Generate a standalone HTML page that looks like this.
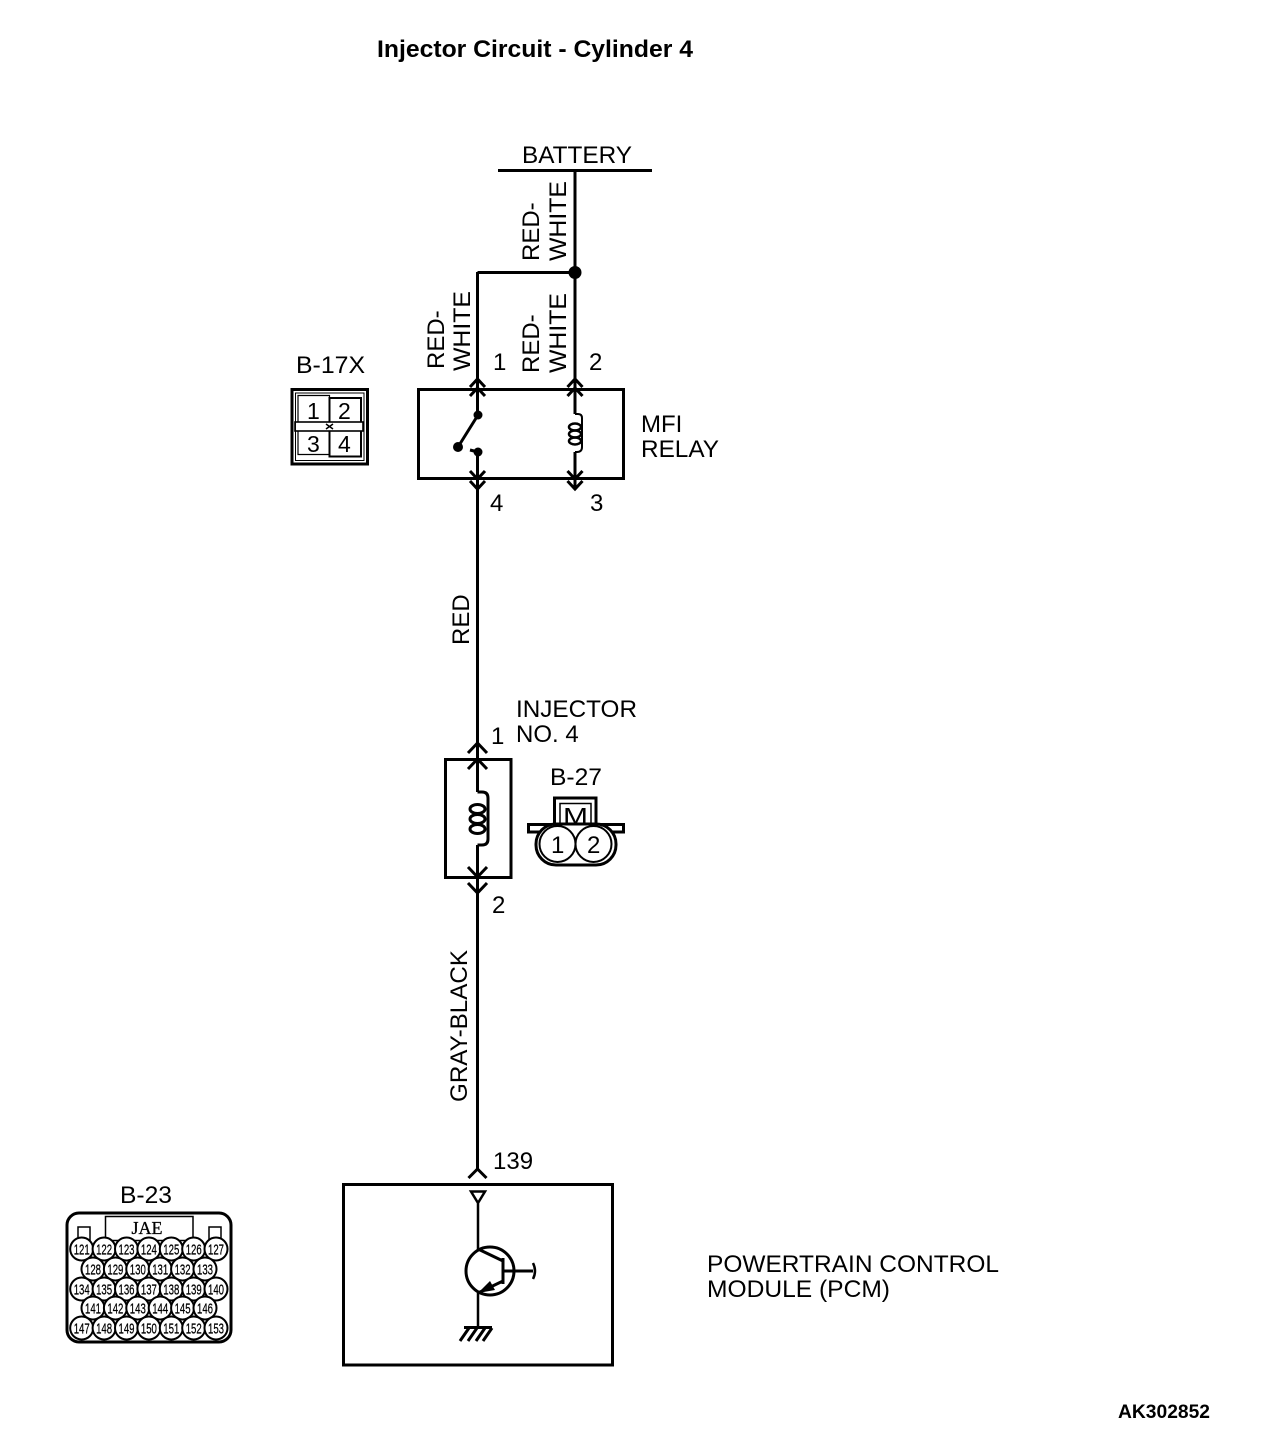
<!DOCTYPE html>
<html><head><meta charset="utf-8"><style>
html,body{margin:0;padding:0;background:#fff}
svg{display:block}
text{font-family:"Liberation Sans",sans-serif;font-size:24px;fill:#000}
.w{stroke:#000;fill:none;stroke-width:3}
.t{stroke:#000;fill:none;stroke-width:2}
.c{stroke:#000;fill:#fff;stroke-width:2}
.n{font-size:15px;text-anchor:middle;stroke:#000;stroke-width:.25}
</style></head><body>
<svg width="1280" height="1454" viewBox="0 0 1280 1454" xmlns="http://www.w3.org/2000/svg">
<defs>
<path id="up" d="M-7.5 8L0 0L7.5 8" fill="none" stroke="#000" stroke-width="3"/>
<path id="dn" d="M-7.5 -8L0 0L7.5 -8" fill="none" stroke="#000" stroke-width="3"/>
<path id="upb" d="M-9.500 10L0 0L9.500 10" fill="none" stroke="#000" stroke-width="3"/>
<path id="dnb" d="M-9.500 -10L0 0L9.500 -10" fill="none" stroke="#000" stroke-width="3"/>
</defs>

<text x="377" y="57" style="font-weight:bold;font-size:24px" textLength="316" lengthAdjust="spacingAndGlyphs">Injector Circuit - Cylinder 4</text>

<text x="522" y="163" textLength="110" lengthAdjust="spacingAndGlyphs">BATTERY</text>
<path class="w" d="M498 170.500H652"/>
<path class="w" d="M575 170V414M477.500 272.500H575M477.500 272V415M477.500 452V792M477.500 845V1170M575 452V489"/>
<circle cx="575" cy="272.500" r="6.500"/>

<text transform="translate(539,261) rotate(-90)">RED-</text>
<text transform="translate(566,261) rotate(-90)" textLength="80" lengthAdjust="spacingAndGlyphs">WHITE</text>
<text transform="translate(444,369) rotate(-90)">RED-</text>
<text transform="translate(470,371) rotate(-90)" textLength="80" lengthAdjust="spacingAndGlyphs">WHITE</text>
<text transform="translate(539,373) rotate(-90)">RED-</text>
<text transform="translate(566,373) rotate(-90)" textLength="80" lengthAdjust="spacingAndGlyphs">WHITE</text>
<text x="493" y="370">1</text>
<text x="589" y="370">2</text>

<!-- relay -->
<rect x="418.500" y="389.500" width="205" height="89" class="w"/>
<use href="#up" x="477.500" y="379"/><use href="#up" x="477.500" y="388"/>
<use href="#up" x="575" y="379"/><use href="#up" x="575" y="388"/>
<use href="#dn" x="477.500" y="479"/><use href="#dn" x="477.500" y="489"/>
<use href="#dn" x="575" y="479"/><use href="#dn" x="575" y="489"/>
<circle cx="478" cy="415" r="4.500"/><circle cx="458" cy="447" r="5"/><circle cx="478" cy="452" r="4.500"/>
<path class="w" d="M478 415L458 447M470 450L478 452"/>
<path class="t" stroke-width="2.500" d="M575 414H578Q582 414 582 418V447Q582 452 577 452H575"/>
<g class="t" style="stroke-width:2.500"><ellipse cx="575" cy="427" rx="6" ry="3.500"/><ellipse cx="575" cy="434" rx="6" ry="3.500"/><ellipse cx="575" cy="441" rx="6" ry="3.500"/></g>
<text x="490" y="511">4</text>
<text x="590" y="511">3</text>
<text x="641" y="432">MFI</text>
<text x="641" y="457" textLength="78" lengthAdjust="spacingAndGlyphs">RELAY</text>

<!-- B-17X -->
<text x="296" y="373" textLength="69" lengthAdjust="spacingAndGlyphs">B-17X</text>
<rect x="292" y="389.500" width="75.500" height="74.500" class="w"/>
<rect x="295.500" y="393" width="68.500" height="67.500" fill="none" stroke="#000" stroke-width="1"/>
<path d="M298 422V395.500H329.500V422M298 431V454.500H329.500" fill="none" stroke="#000" stroke-width="1.200"/>
<path d="M329.500 422V398H361V422M329.500 431V456.500H361V431" fill="none" stroke="#000" stroke-width="2"/>
<rect x="295" y="422" width="68" height="9" fill="none" stroke="#000" stroke-width="1.600"/>
<path d="M326 424L333 429M333 424L326 429" stroke="#000" stroke-width="1.500"/>
<text x="307" y="419" style="font-size:23px">1</text>
<text x="338" y="419" style="font-size:23px">2</text>
<text x="307" y="452" style="font-size:23px">3</text>
<text x="338" y="452" style="font-size:23px">4</text>

<text x="491" y="744">1</text>
<text x="516" y="717" textLength="121" lengthAdjust="spacingAndGlyphs">INJECTOR</text>
<text x="516" y="742">NO. 4</text>

<!-- injector -->
<rect x="445.500" y="759.500" width="65.500" height="118" class="w"/>
<use href="#upb" x="477.500" y="743"/><use href="#upb" x="477.500" y="759"/>
<use href="#dnb" x="477.500" y="877"/><use href="#dnb" x="477.500" y="893"/>
<path class="w" d="M477.500 792H482Q488 792 488 798V839Q488 845 482 845H477.500"/>
<g class="w"><ellipse cx="477.500" cy="809" rx="7.500" ry="4.500"/><ellipse cx="477.500" cy="819" rx="7.500" ry="4.500"/><ellipse cx="477.500" cy="829" rx="7.500" ry="4.500"/></g>
<text x="492" y="913">2</text>

<!-- B-27 -->
<text x="550" y="785" textLength="52" lengthAdjust="spacingAndGlyphs">B-27</text>
<path class="w" d="M554.500 823V798H596V823"/>
<path d="M560 823V803.500H591V823" fill="none" stroke="#000" stroke-width="1.500"/>
<text x="563" y="824" style="font-size:23px" textLength="25" lengthAdjust="spacingAndGlyphs">M</text>
<rect x="528.500" y="824.500" width="95" height="7.500" fill="#fff" stroke="#000" stroke-width="3"/>
<rect x="536" y="824" width="80" height="41" rx="20" fill="#fff" stroke="#000" stroke-width="3"/>
<circle cx="557.500" cy="844" r="18" class="c"/>
<circle cx="593.500" cy="844" r="18" class="c"/>
<text x="551" y="853">1</text>
<text x="587" y="853">2</text>

<text transform="translate(467,1102) rotate(-90)" textLength="152" lengthAdjust="spacingAndGlyphs">GRAY-BLACK</text>
<text transform="translate(469,645) rotate(-90)">RED</text>

<!-- PCM -->
<path class="w" d="M468.500 1178L477.500 1169L486.500 1178"/>
<text x="493" y="1169">139</text>
<rect x="343.500" y="1184.500" width="269" height="180.500" class="w"/>
<path class="t" style="stroke-width:2.500" d="M471 1191.500H485L478 1203ZM478 1203V1250M478 1293V1327"/>
<circle cx="490" cy="1271" r="24" class="w"/>
<path class="w" d="M503 1258V1284M478 1249L503 1261M503 1281L478 1293M503 1271H533"/>
<path d="M478 1293L490 1281L495 1290Z"/>
<path class="t" style="stroke-width:2.500" d="M533 1263Q537 1271 533 1279"/>
<path class="w" d="M464 1327.500H492M469 1328L460 1341M477 1328L468 1341M485 1328L476 1341M492 1328L483 1341"/>
<text x="707" y="1272" textLength="292" lengthAdjust="spacingAndGlyphs">POWERTRAIN CONTROL</text>
<text x="707" y="1297" textLength="183" lengthAdjust="spacingAndGlyphs">MODULE (PCM)</text>

<!-- B-23 -->
<text x="120" y="1203" textLength="52" lengthAdjust="spacingAndGlyphs">B-23</text>
<rect x="67" y="1213" width="164" height="129" rx="12" class="w"/>
<rect x="105.500" y="1216.500" width="87.500" height="24" fill="none" stroke="#000" stroke-width="1.500"/>
<text x="147" y="1234" text-anchor="middle" style="font-size:18px;font-family:'Liberation Serif',serif;stroke:#000;stroke-width:.3">JAE</text>
<rect x="78" y="1227" width="12" height="13" fill="none" stroke="#000" stroke-width="1.500"/>
<rect x="209" y="1227" width="12" height="13" fill="none" stroke="#000" stroke-width="1.500"/>
<g>
<circle cx="81.700" cy="1249" r="11.500" class="c"/><text x="81.700" y="1254.500" class="n" textLength="16" lengthAdjust="spacingAndGlyphs">121</text>
<circle cx="104.100" cy="1249" r="11.500" class="c"/><text x="104.100" y="1254.500" class="n" textLength="16" lengthAdjust="spacingAndGlyphs">122</text>
<circle cx="126.500" cy="1249" r="11.500" class="c"/><text x="126.500" y="1254.500" class="n" textLength="16" lengthAdjust="spacingAndGlyphs">123</text>
<circle cx="148.900" cy="1249" r="11.500" class="c"/><text x="148.900" y="1254.500" class="n" textLength="16" lengthAdjust="spacingAndGlyphs">124</text>
<circle cx="171.300" cy="1249" r="11.500" class="c"/><text x="171.300" y="1254.500" class="n" textLength="16" lengthAdjust="spacingAndGlyphs">125</text>
<circle cx="193.700" cy="1249" r="11.500" class="c"/><text x="193.700" y="1254.500" class="n" textLength="16" lengthAdjust="spacingAndGlyphs">126</text>
<circle cx="216" cy="1249" r="11.500" class="c"/><text x="216" y="1254.500" class="n" textLength="16" lengthAdjust="spacingAndGlyphs">127</text>

<circle cx="93" cy="1269" r="11.500" class="c"/><text x="93" y="1274.500" class="n" textLength="16" lengthAdjust="spacingAndGlyphs">128</text>
<circle cx="115.400" cy="1269" r="11.500" class="c"/><text x="115.400" y="1274.500" class="n" textLength="16" lengthAdjust="spacingAndGlyphs">129</text>
<circle cx="137.800" cy="1269" r="11.500" class="c"/><text x="137.800" y="1274.500" class="n" textLength="16" lengthAdjust="spacingAndGlyphs">130</text>
<circle cx="160.200" cy="1269" r="11.500" class="c"/><text x="160.200" y="1274.500" class="n" textLength="16" lengthAdjust="spacingAndGlyphs">131</text>
<circle cx="182.600" cy="1269" r="11.500" class="c"/><text x="182.600" y="1274.500" class="n" textLength="16" lengthAdjust="spacingAndGlyphs">132</text>
<circle cx="205" cy="1269" r="11.500" class="c"/><text x="205" y="1274.500" class="n" textLength="16" lengthAdjust="spacingAndGlyphs">133</text>

<circle cx="81.700" cy="1289" r="11.500" class="c"/><text x="81.700" y="1294.500" class="n" textLength="16" lengthAdjust="spacingAndGlyphs">134</text>
<circle cx="104.100" cy="1289" r="11.500" class="c"/><text x="104.100" y="1294.500" class="n" textLength="16" lengthAdjust="spacingAndGlyphs">135</text>
<circle cx="126.500" cy="1289" r="11.500" class="c"/><text x="126.500" y="1294.500" class="n" textLength="16" lengthAdjust="spacingAndGlyphs">136</text>
<circle cx="148.900" cy="1289" r="11.500" class="c"/><text x="148.900" y="1294.500" class="n" textLength="16" lengthAdjust="spacingAndGlyphs">137</text>
<circle cx="171.300" cy="1289" r="11.500" class="c"/><text x="171.300" y="1294.500" class="n" textLength="16" lengthAdjust="spacingAndGlyphs">138</text>
<circle cx="193.700" cy="1289" r="11.500" class="c"/><text x="193.700" y="1294.500" class="n" textLength="16" lengthAdjust="spacingAndGlyphs">139</text>
<circle cx="216" cy="1289" r="11.500" class="c"/><text x="216" y="1294.500" class="n" textLength="16" lengthAdjust="spacingAndGlyphs">140</text>

<circle cx="93" cy="1308" r="11.500" class="c"/><text x="93" y="1313.500" class="n" textLength="16" lengthAdjust="spacingAndGlyphs">141</text>
<circle cx="115.400" cy="1308" r="11.500" class="c"/><text x="115.400" y="1313.500" class="n" textLength="16" lengthAdjust="spacingAndGlyphs">142</text>
<circle cx="137.800" cy="1308" r="11.500" class="c"/><text x="137.800" y="1313.500" class="n" textLength="16" lengthAdjust="spacingAndGlyphs">143</text>
<circle cx="160.200" cy="1308" r="11.500" class="c"/><text x="160.200" y="1313.500" class="n" textLength="16" lengthAdjust="spacingAndGlyphs">144</text>
<circle cx="182.600" cy="1308" r="11.500" class="c"/><text x="182.600" y="1313.500" class="n" textLength="16" lengthAdjust="spacingAndGlyphs">145</text>
<circle cx="205" cy="1308" r="11.500" class="c"/><text x="205" y="1313.500" class="n" textLength="16" lengthAdjust="spacingAndGlyphs">146</text>

<circle cx="81.700" cy="1328" r="11.500" class="c"/><text x="81.700" y="1333.500" class="n" textLength="16" lengthAdjust="spacingAndGlyphs">147</text>
<circle cx="104.100" cy="1328" r="11.500" class="c"/><text x="104.100" y="1333.500" class="n" textLength="16" lengthAdjust="spacingAndGlyphs">148</text>
<circle cx="126.500" cy="1328" r="11.500" class="c"/><text x="126.500" y="1333.500" class="n" textLength="16" lengthAdjust="spacingAndGlyphs">149</text>
<circle cx="148.900" cy="1328" r="11.500" class="c"/><text x="148.900" y="1333.500" class="n" textLength="16" lengthAdjust="spacingAndGlyphs">150</text>
<circle cx="171.300" cy="1328" r="11.500" class="c"/><text x="171.300" y="1333.500" class="n" textLength="16" lengthAdjust="spacingAndGlyphs">151</text>
<circle cx="193.700" cy="1328" r="11.500" class="c"/><text x="193.700" y="1333.500" class="n" textLength="16" lengthAdjust="spacingAndGlyphs">152</text>
<circle cx="216" cy="1328" r="11.500" class="c"/><text x="216" y="1333.500" class="n" textLength="16" lengthAdjust="spacingAndGlyphs">153</text>
</g>

<text x="1118" y="1418" style="font-weight:bold;font-size:19px" textLength="92" lengthAdjust="spacingAndGlyphs">AK302852</text>
</svg>
</body></html>
